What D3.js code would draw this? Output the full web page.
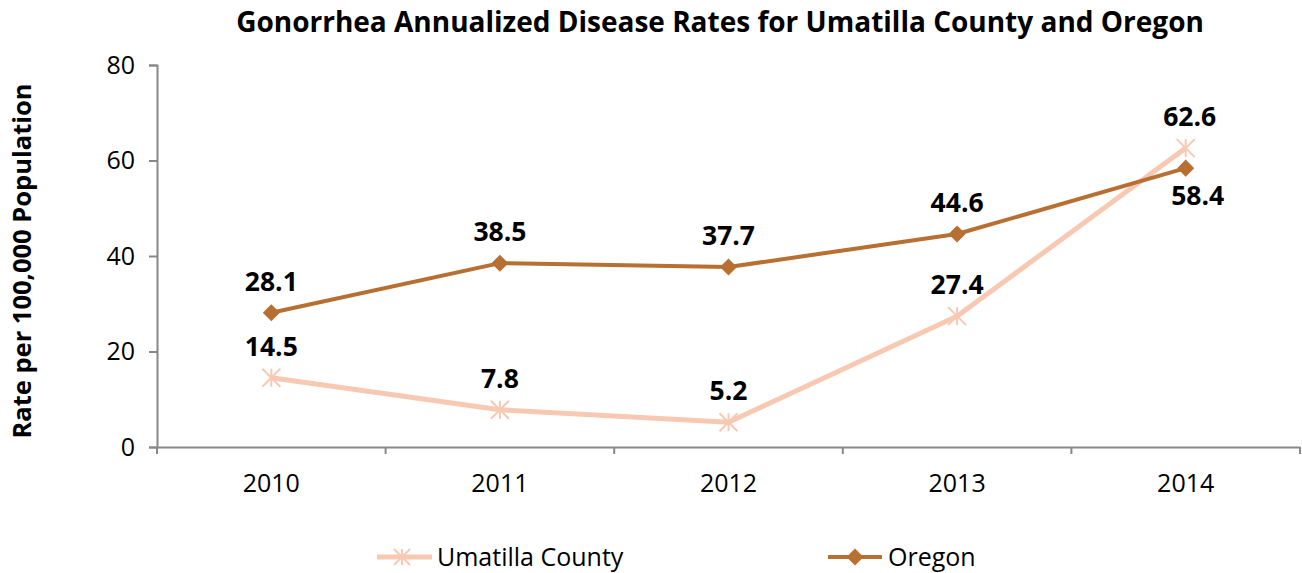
<!DOCTYPE html>
<html>
<head>
<meta charset="utf-8">
<script src="https://cdn.jsdelivr.net/npm/d3@7"></script>
<style>
  body { margin: 0; background: #fff; }
  text { font-family: "Open Sans", "Noto Sans", sans-serif; }
</style>
</head>
<body>
<svg id="viz" width="1302" height="573"></svg>
<script>
// chart data
var years = ["2010", "2011", "2012", "2013", "2014"];
var umatilla = [14.5, 7.8, 5.2, 27.4, 62.6];
var oregon = [28.1, 38.5, 37.7, 44.6, 58.4];
var yTicks = [0, 20, 40, 60, 80];
var seriesNames = ["Umatilla County", "Oregon"];

var svg = d3.select("#viz");
var m = { left: 157, right: 1300, top: 65, bottom: 447 };

var x = d3.scaleBand().domain(years).range([m.left, m.right]);
var y = d3.scaleLinear().domain([0, 80]).range([m.bottom, m.top]);
var cx = function (d, i) { return x(years[i]) + x.bandwidth() / 2; };

var colUm = "#f7c9b3", colOr = "#b86f32";

// title
svg.append("text")
  .attr("x", 720).attr("y", 32)
  .attr("text-anchor", "middle")
  .style("font-size", "28px").style("font-weight", "bold")
  .text("Gonorrhea Annualized Disease Rates for Umatilla County and Oregon");

// y axis title
svg.append("text")
  .attr("transform", "translate(31,261) rotate(-90)")
  .attr("text-anchor", "middle")
  .style("font-size", "25.5px").style("font-weight", "bold")
  .text("Rate per 100,000 Population");

// y axis
var yAx = svg.append("g")
  .attr("transform", "translate(" + m.left + ",0)")
  .call(d3.axisLeft(y).tickValues(yTicks).tickSize(8).tickPadding(14));
yAx.selectAll("text").style("font-size", "25px").attr("fill", "#000")
  .style("font-family", "'Open Sans', sans-serif");

// x axis with ticks at category boundaries
var xAx = svg.append("g")
  .attr("transform", "translate(0," + m.bottom + ")")
  .call(d3.axisBottom(x).tickSize(0).tickPadding(27));
xAx.selectAll("text").style("font-size", "25px").attr("fill", "#000")
  .style("font-family", "'Open Sans', sans-serif");
xAx.selectAll(".bound")
  .data(years.concat(["end"]))
  .enter().append("line")
  .attr("x1", function (d, i) { return m.left + i * x.step(); })
  .attr("x2", function (d, i) { return m.left + i * x.step(); })
  .attr("y1", 0).attr("y2", 7)
  .attr("stroke", "#888").attr("stroke-width", 2);

svg.selectAll(".domain").attr("stroke", "#888").attr("stroke-width", 2);
yAx.selectAll(".tick line").attr("stroke", "#888").attr("stroke-width", 2);

var line = d3.line().x(cx).y(function (d) { return y(d); });

// Umatilla line + star markers
svg.append("path").datum(umatilla)
  .attr("d", line).attr("fill", "none")
  .attr("stroke", colUm).attr("stroke-width", 5).attr("stroke-linejoin", "round");

function star(g, px, py, r) {
  var pts = [[-r, -r, r, r], [-r, r, r, -r], [0, -r, 0, r]];
  pts.forEach(function (p) {
    g.append("line")
      .attr("x1", px + p[0]).attr("y1", py + p[1])
      .attr("x2", px + p[2]).attr("y2", py + p[3])
      .attr("stroke", colUm).attr("stroke-width", 2);
  });
}
var gUm = svg.append("g");
umatilla.forEach(function (d, i) { star(gUm, cx(d, i), y(d), 9); });

// Oregon line + diamond markers
svg.append("path").datum(oregon)
  .attr("d", line).attr("fill", "none")
  .attr("stroke", colOr).attr("stroke-width", 4).attr("stroke-linejoin", "round");

var diamond = d3.symbol().type(d3.symbolDiamond2).size(185);
svg.selectAll(".dia").data(oregon).enter().append("path")
  .attr("d", diamond)
  .attr("transform", function (d, i) { return "translate(" + cx(d, i) + "," + y(d) + ")"; })
  .attr("fill", colOr);

// data labels (last pair nudged apart like the original)
function labels(data, below, dx) {
  svg.append("g").selectAll("text").data(data).enter().append("text")
    .attr("x", function (d, i) { return cx(d, i) + (i === 4 ? dx : 0); })
    .attr("y", function (d, i) { return y(d) + (below(i) ? 37 : -22); })
    .attr("text-anchor", "middle")
    .style("font-size", "26.5px").style("font-weight", "bold")
    .text(function (d) { return d.toFixed(1); });
}
labels(umatilla, function () { return false; }, 4);
labels(oregon, function (i) { return i === 4; }, 12);

// legend
var leg = svg.append("g");
leg.append("line").attr("x1", 377).attr("x2", 432).attr("y1", 557).attr("y2", 557)
  .attr("stroke", colUm).attr("stroke-width", 5);
star(leg, 402, 557, 8);
leg.append("text").attr("x", 437).attr("y", 566).style("font-size", "25px").text(seriesNames[0]);

leg.append("line").attr("x1", 828).attr("x2", 882).attr("y1", 557).attr("y2", 557)
  .attr("stroke", colOr).attr("stroke-width", 4);
leg.append("path").attr("d", diamond).attr("fill", colOr)
  .attr("transform", "translate(855,557)");
leg.append("text").attr("x", 888).attr("y", 566).style("font-size", "25px").text(seriesNames[1]);
</script>
</body>
</html>
